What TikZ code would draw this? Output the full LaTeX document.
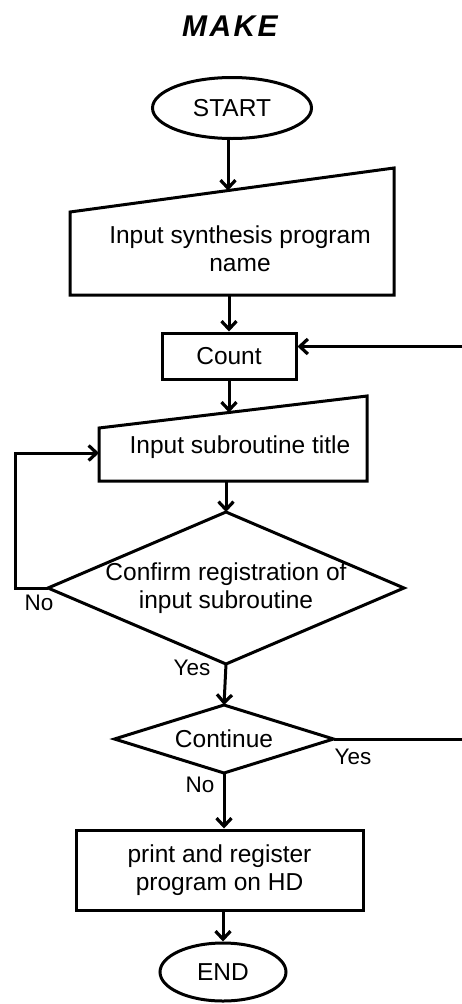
\documentclass[tikz,border=0pt]{standalone}
\usepackage{fontspec}
\setmainfont{Liberation Sans}
\newfontfamily\titlefont[LetterSpace=8]{Liberation Sans}
\usetikzlibrary{shapes.geometric,arrows.meta,calc}
\begin{document}
\begin{tikzpicture}[x=1pt,y=-1pt, line width=3pt,
  every node/.style={font=\fontsize{24.5}{28}\selectfont, align=center, inner sep=0pt},
  term/.style={draw, ellipse},
  box/.style={draw, rectangle},
  blank/.style={rectangle, draw=none, outer sep=0pt},
  arr/.style={-{Straight Barb[length=8pt,width=15pt,line width=3.2pt]}},
  lbl/.style={font=\fontsize{22.5}{26}\selectfont}]
\useasboundingbox (0,0) rectangle (461,1004);

\node (title) at (230,26) {\titlefont\fontsize{30}{34}\selectfont\bfseries\itshape MAKE};

\node[term, minimum width=159pt, minimum height=61pt] (start) at (232,108) {START};

% manual input 1
\node[blank, minimum width=324pt, minimum height=127pt] (in1) at (232,231.5) {};
\draw (in1.north east) -- (in1.south east) -- (in1.south west) -- ($(in1.north west)+(0,44)$) -- cycle;
\node (in1t) at (240,249) {Input synthesis program\\name};
\coordinate (in1top) at (228,190.5);

\node[box, minimum width=134pt, minimum height=46pt] (count) at (229,356) {Count};

% manual input 2
\node[blank, minimum width=268pt, minimum height=85pt] (in2) at (233,438.5) {};
\draw (in2.north east) -- (in2.south east) -- (in2.south west) -- ($(in2.north west)+(0,32)$) -- cycle;
\node (in2t) at (240,447) {Input subroutine title};
\coordinate (in2top) at (229,412.5);
\coordinate (in2in) at (99,453);

% confirm diamond
\node[blank, minimum width=356pt, minimum height=152pt] (conf) at (226,588) {Confirm registration of\\input subroutine};
\draw (conf.north) -- (conf.east) -- (conf.south) -- (conf.west) -- cycle;

% continue diamond
\node[blank, minimum width=219pt, minimum height=68pt] (cont) at (224,739) {Continue};
\draw (cont.north) -- (cont.east) -- (cont.south) -- (cont.west) -- cycle;

\node[box, minimum width=287pt, minimum height=80pt] (print) at (219.5,870) {print and register\\program on HD};

\node[term, minimum width=126pt, minimum height=58pt] (end) at (223,972) {END};

% labels
\node[lbl] (no1) at (39,603) {No};
\node[lbl] (yes1) at (192,668) {Yes};
\node[lbl] (yes2) at (353,757) {Yes};
\node[lbl] (no2) at (200,785) {No};

% connectors
\draw[arr] (start.south -| in1top) -- (in1top);
\draw[arr] (count.north |- in1.south) -- (count.north);
\draw[arr] (count.south) -- (in2top);
\draw[arr] (conf.north |- in2.south) -- (conf.north);
\draw[arr] (conf.west) -- ++(-33,0) |- (in2in);
\draw[arr] (conf.south) -- (cont.north);
\coordinate (countin) at ($(count.north east)+(0,15)$);
\draw[arr] (cont.east) -- (480,739) |- (countin);
\draw[arr] (cont.south) -- (cont.south |- print.north);
\draw[arr] (end.north |- print.south) -- (end.north);
\end{tikzpicture}
\end{document}
